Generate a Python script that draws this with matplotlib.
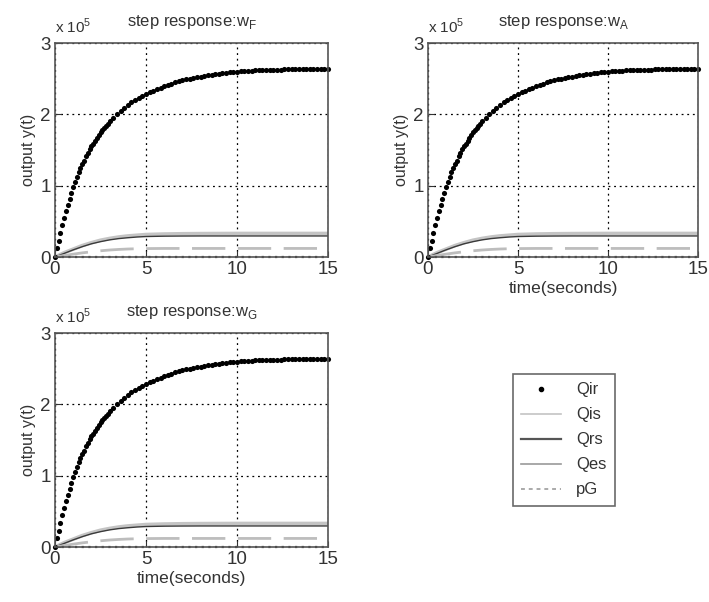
import numpy as np
import matplotlib
matplotlib.use("Agg")
import matplotlib.pyplot as plt

plt.rcParams['font.family'] = ['Liberation Sans', 'DejaVu Sans']

# ---- data (outputs in units of 1e5) ----
t_ir = [0.0, 0.1, 0.2, 0.3, 0.4, 0.5, 0.6, 0.7, 0.8, 0.9, 1.0, 1.1, 1.2, 1.3, 1.4, 1.5,
        1.6, 1.7, 1.8, 1.9, 2.0, 2.1, 2.2, 2.3, 2.4, 2.5, 2.6, 2.7, 2.8, 2.9, 3.0,
        3.2, 3.4, 3.6, 3.8, 4.0, 4.2, 4.4, 4.6, 4.8, 5.0, 5.2, 5.4, 5.6, 5.8, 6.0,
        6.2, 6.4, 6.6, 6.8, 7.0, 7.2, 7.4, 7.6, 7.8, 8.0, 8.2, 8.4, 8.6, 8.8, 9.0,
        9.2, 9.4, 9.6, 9.8, 10.0, 10.2, 10.4, 10.6, 10.8, 11.0, 11.2, 11.4, 11.6, 11.8,
        12.0, 12.2, 12.4, 12.6, 12.8, 13.0, 13.2, 13.4, 13.6, 13.8, 14.0, 14.2, 14.4,
        14.6, 14.8, 15.0]
Qir = [0.0, 0.12, 0.23, 0.34, 0.45, 0.55, 0.64, 0.73, 0.82, 0.90, 0.98, 1.05, 1.12, 1.19,
       1.25, 1.30, 1.35, 1.41, 1.46, 1.51, 1.55, 1.59, 1.63, 1.67, 1.71, 1.75, 1.78, 1.81,
       1.84, 1.87, 1.90, 1.95, 2.00, 2.04, 2.09, 2.13, 2.17, 2.20, 2.235, 2.26, 2.29,
       2.31, 2.33, 2.35, 2.37, 2.40, 2.41, 2.43, 2.45, 2.465, 2.48, 2.49, 2.50, 2.51,
       2.52, 2.53, 2.54, 2.545, 2.55, 2.56, 2.57, 2.575, 2.58, 2.59, 2.595, 2.60, 2.603,
       2.606, 2.609, 2.612, 2.615, 2.617, 2.619, 2.621, 2.623, 2.625, 2.626, 2.628,
       2.629, 2.630, 2.632, 2.633, 2.634, 2.635, 2.636, 2.637, 2.638, 2.638, 2.639,
       2.640, 2.640]

t_s = [0, 0.5, 1, 1.5, 2, 2.5, 3, 3.5, 4, 4.5, 5, 6, 7, 8, 10, 12, 15]
Qis = [0, 0.06, 0.11, 0.16, 0.20, 0.235, 0.26, 0.28, 0.295, 0.305, 0.315, 0.322, 0.326,
       0.328, 0.33, 0.33, 0.33]
Qrs = [0, 0.05, 0.10, 0.145, 0.185, 0.215, 0.24, 0.258, 0.27, 0.28, 0.287, 0.292, 0.294,
       0.295, 0.295, 0.295, 0.295]
Qes = [0, 0.02, 0.04, 0.058, 0.073, 0.087, 0.098, 0.106, 0.112, 0.116, 0.118, 0.12, 0.12,
       0.12, 0.12, 0.12, 0.12]
t_pg = [0, 15]
pG = [0, 0]

titles = ['F', 'A', 'G']
xticks = [0, 5, 10, 15]
yticks = [0, 1, 2, 3]
legend_labels = ['Qir', 'Qis', 'Qrs', 'Qes', 'pG']

W, H = 709, 602
fig = plt.figure(figsize=(W / 100, H / 100), dpi=100)

boxes = [(55, 43, 328, 257), (428, 43, 698, 257), (55, 333, 328, 547)]
show_xlabel = [False, True, True]

for (x0, y0, x1, y1), sub, sx in zip(boxes, titles, show_xlabel):
    ax = fig.add_axes([x0 / W, 1 - y1 / H, (x1 - x0) / W, (y1 - y0) / H])
    ax.plot(t_s, Qis, color='#c4c4c4', lw=2.6, solid_capstyle='butt')
    ax.plot(t_s, Qrs, color='#3a3a3a', lw=1.0)
    ax.plot(t_s, Qes, color='#bdbdbd', lw=2.0, linestyle=(0, (12, 4.5)))
    ax.plot(t_pg, pG, color='#303030', lw=1.6, linestyle=(0, (1, 2)), clip_on=False)
    ax.plot(t_ir, Qir, linestyle='none', marker='o', markersize=3.7,
            color='black', markeredgewidth=0, clip_on=False)
    ax.set_xlim(0, 15)
    ax.set_ylim(0, 3)
    ax.set_xticks(xticks)
    ax.set_yticks(yticks)
    ax.grid(True, color='black', linestyle=(0, (1.5, 3)), lw=0.9)
    ax.tick_params(direction='in', labelsize=13.5, length=4, pad=3, colors='#333333')
    for s in ax.spines.values():
        s.set_color('#555555')
        s.set_linewidth(1.2)
    ax.set_ylabel('output y(t)', fontsize=11.5, color='#333333', labelpad=3)
    if sx:
        ax.set_xlabel('time(seconds)', fontsize=12.5, color='#333333', labelpad=2)
    ax.set_title('step response:w$_{\\mathregular{%s}}$' % sub, fontsize=12,
                 color='#333333', pad=12)
    ax.text(0.0, 1.035, 'x 10$^{\\mathregular{5}}$', transform=ax.transAxes,
            fontsize=11, color='#333333', ha='left', va='bottom')

# legend
from matplotlib.lines import Line2D
handles = [
    Line2D([], [], linestyle='none', marker='o', markersize=3, color='black'),
    Line2D([], [], color='#c4c4c4', lw=1.2),
    Line2D([], [], color='#555555', lw=1.6),
    Line2D([], [], color='#999999', lw=1.2),
    Line2D([], [], color='#aaaaaa', lw=1.4, linestyle=(0, (2, 2))),
]
leg = fig.legend(handles, legend_labels, loc='upper left',
                 bbox_to_anchor=(513 / W, 1 - 374 / H), fontsize=12,
                 frameon=True, fancybox=False, edgecolor='#444444',
                 handlelength=2.4, handletextpad=0.9, labelspacing=0.6,
                 borderpad=0.5, borderaxespad=0)
leg.get_frame().set_linewidth(1.2)
for txt in leg.get_texts():
    txt.set_color('#333333')

fig.savefig('out.png', dpi=100, facecolor='white')
